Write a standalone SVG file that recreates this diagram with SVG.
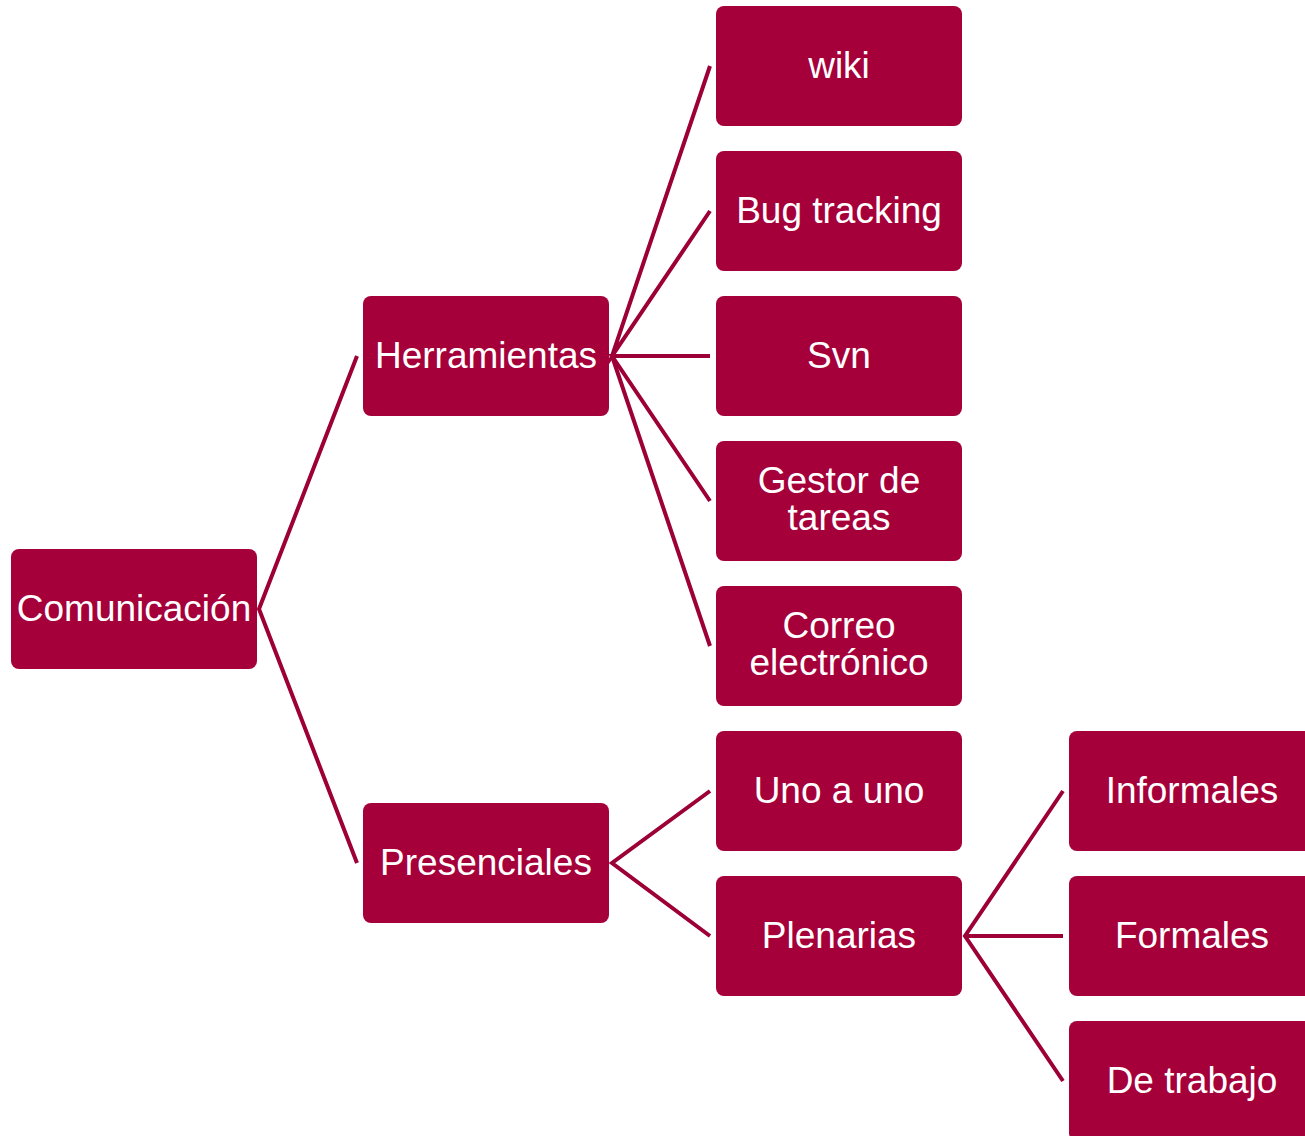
<svg xmlns="http://www.w3.org/2000/svg" width="1305" height="1136" viewBox="0 0 1305 1136">
<style>
.box{fill:#A6003A;}
.lbl{fill:#FFFFFF;font-family:"Liberation Sans",Arial,sans-serif;font-size:37px;text-anchor:middle;}
.con{fill:none;stroke:#9C0036;stroke-width:4;stroke-linejoin:miter;stroke-miterlimit:10;}
</style>
<rect width="1305" height="1136" fill="#FFFFFF"/>
<g id="connectors">
<polyline class="con" points="357,356 259,609 357,863"/>
<polyline class="con" points="710,66 612,356 710,211"/>
<polyline class="con" points="710,356 612,356 710,501"/>
<polyline class="con" points="612,356 710,646"/>
<polyline class="con" points="710,791 612,863 710,936"/>
<polyline class="con" points="1063,791 965,936 1063,1081"/>
<polyline class="con" points="965,936 1063,936"/>
</g>
<g id="n-comunicacion"><rect class="box" x="11" y="549" width="246" height="120" rx="8"/><text class="lbl" x="134" y="621">Comunicación</text></g>
<g id="n-herramientas"><rect class="box" x="363" y="296" width="246" height="120" rx="8"/><text class="lbl" x="486" y="368">Herramientas</text></g>
<g id="n-presenciales"><rect class="box" x="363" y="803" width="246" height="120" rx="8"/><text class="lbl" x="486" y="875">Presenciales</text></g>
<g id="n-wiki"><rect class="box" x="716" y="6" width="246" height="120" rx="8"/><text class="lbl" x="839" y="78">wiki</text></g>
<g id="n-bug"><rect class="box" x="716" y="151" width="246" height="120" rx="8"/><text class="lbl" x="839" y="223">Bug tracking</text></g>
<g id="n-svn"><rect class="box" x="716" y="296" width="246" height="120" rx="8"/><text class="lbl" x="839" y="368">Svn</text></g>
<g id="n-gestor"><rect class="box" x="716" y="441" width="246" height="120" rx="8"/><text class="lbl" x="839" y="493">Gestor de</text><text class="lbl" x="839" y="530">tareas</text></g>
<g id="n-correo"><rect class="box" x="716" y="586" width="246" height="120" rx="8"/><text class="lbl" x="839" y="638">Correo</text><text class="lbl" x="839" y="675">electrónico</text></g>
<g id="n-uno"><rect class="box" x="716" y="731" width="246" height="120" rx="8"/><text class="lbl" x="839" y="803">Uno a uno</text></g>
<g id="n-plenarias"><rect class="box" x="716" y="876" width="246" height="120" rx="8"/><text class="lbl" x="839" y="948">Plenarias</text></g>
<g id="n-informales"><rect class="box" x="1069" y="731" width="246" height="120" rx="8"/><text class="lbl" x="1192" y="803">Informales</text></g>
<g id="n-formales"><rect class="box" x="1069" y="876" width="246" height="120" rx="8"/><text class="lbl" x="1192" y="948">Formales</text></g>
<g id="n-detrabajo"><rect class="box" x="1069" y="1021" width="246" height="120" rx="8"/><text class="lbl" x="1192" y="1093">De trabajo</text></g>
</svg>
